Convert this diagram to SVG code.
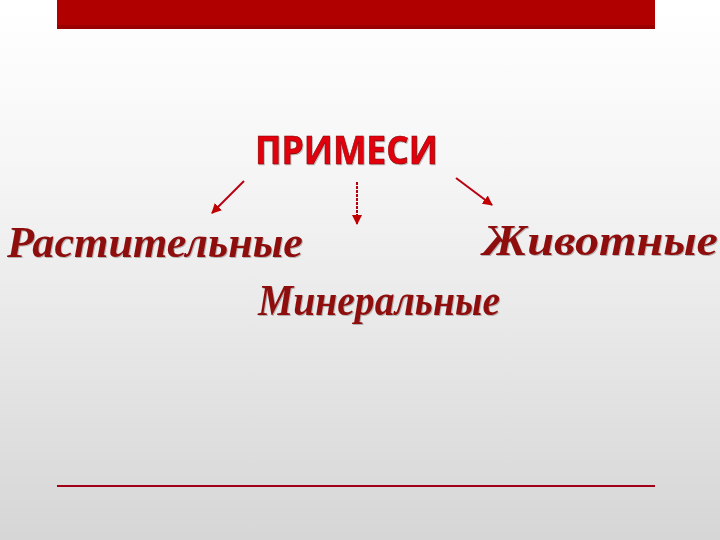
<svg xmlns="http://www.w3.org/2000/svg" width="720" height="540" viewBox="0 0 720 540">
<defs>
<linearGradient id="bg" x1="0" y1="0" x2="0" y2="1">
<stop offset="0" stop-color="#ffffff"/>
<stop offset="0.3" stop-color="#f6f6f6"/>
<stop offset="1" stop-color="#d6d6d6"/>
</linearGradient>
<marker id="ah" viewBox="0 0 10 10" refX="9" refY="5" markerWidth="5" markerHeight="5" orient="auto">
<path d="M0,0 L10,5 L0,10 Z" fill="#c00000"/>
</marker>
<filter id="sh" x="-5%" y="-5%" width="110%" height="120%">
<feDropShadow dx="1" dy="1" stdDeviation="0.6" flood-color="#000" flood-opacity="0.25"/>
</filter>
</defs>
<style>
.title{font-family:"Open Sans","Liberation Sans",sans-serif;font-weight:bold;font-size:40px;fill:#e3000f;stroke:#7a0000;stroke-width:0.6}
.lbl{font-family:"Liberation Serif","DejaVu Serif",serif;font-weight:bold;font-style:italic;font-size:45px;fill:#8e0b0b}
.arr{stroke:#b80010;stroke-width:2;fill:none;marker-end:url(#ah)}
</style>
<rect width="720" height="540" fill="url(#bg)"/>
<rect x="57" y="0" width="598" height="29" fill="#b00000"/>
<rect x="57" y="25" width="598" height="4" fill="#9a0000"/>
<line x1="57" y1="486" x2="655" y2="486" stroke="#a30018" stroke-width="2"/>
<g id="title"><text class="title" x="255" y="164" textLength="183" lengthAdjust="spacingAndGlyphs" filter="url(#sh)">ПРИМЕСИ</text></g>
<g id="connectors">
<line class="arr" x1="244" y1="181" x2="212" y2="213"/>
<line class="arr" x1="357" y1="182" x2="357" y2="224" stroke-dasharray="3,1"/>
<line class="arr" x1="456" y1="178" x2="492" y2="205"/>
</g>
<g id="plant"><text class="lbl" x="7" y="257" textLength="296" lengthAdjust="spacingAndGlyphs" filter="url(#sh)">Растительные</text></g>
<g id="animal"><text class="lbl" x="483" y="255" textLength="235" lengthAdjust="spacingAndGlyphs" filter="url(#sh)">Животные</text></g>
<g id="mineral"><text class="lbl" x="258" y="315" textLength="242" lengthAdjust="spacingAndGlyphs" filter="url(#sh)">Минеральные</text></g>
</svg>
